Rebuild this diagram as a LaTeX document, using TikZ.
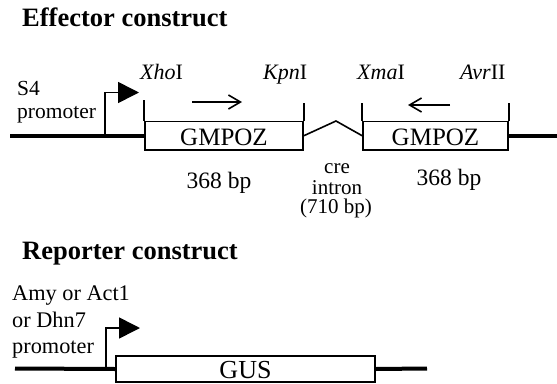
\documentclass[tikz,border=0pt]{standalone}
\usepackage{fontspec}
\setmainfont{Liberation Serif}
\usetikzlibrary{arrows.meta}
\begin{document}
\begin{tikzpicture}[x=1pt,y=-1pt,
  dna/.style={line width=4pt},
  thinline/.style={line width=1.6pt},
  gbox/.style={draw,line width=1.6pt,rectangle,inner sep=0pt,fill=white},
  lab/.style={inner sep=0pt,anchor=base west},
  clab/.style={inner sep=0pt,anchor=base},
  titlefont/.style={font=\bfseries\fontsize{26.5}{30}\selectfont},
  smallfont/.style={font=\fontsize{21.5}{25}\selectfont},
  reportfont/.style={font=\fontsize{22.3}{25}\selectfont},
  sitefont/.style={font=\fontsize{22}{26}\selectfont},
  bpfont/.style={font=\fontsize{23.5}{28}\selectfont},
  introfont/.style={font=\fontsize{21}{24}\selectfont},
  promarrow/.style={thinline,-{Triangle[length=21pt,width=21pt]}},
  dirarrow/.style={thinline,-{Straight Barb[length=12pt,width=14pt]}}]
\fill[white] (0,0) rectangle (557,383);
\useasboundingbox (0,0) rectangle (557,383);

% ---------------- Effector construct ----------------
\node[lab,titlefont] (t1) at (22,26) {Effector construct};
\node[lab,smallfont] (s4) at (17,95) {S4};
\node[lab,smallfont] (prom1) at (17,118) {promoter};

\node[gbox,minimum width=158pt,minimum height=28.5pt,text height=20pt,text depth=0pt,
      font=\fontsize{25}{30}\selectfont] (g1) at (224,135.75) {GMPOZ};
\node[gbox,minimum width=145pt,minimum height=28.5pt,text height=20pt,text depth=0pt,
      font=\fontsize{25}{30}\selectfont] (g2) at (435.5,135.75) {GMPOZ};

\coordinate (L0) at (10,135.75);
\coordinate (R0) at (557,135.75);
\coordinate (P1) at (105,135.75);
\coordinate (P1tip) at (139,92.5);
\coordinate (ipk) at (336,121);

\draw[dna] (L0) -- (g1.west);
\draw[dna] (g2.east) -- (R0);
\draw[promarrow] (P1) |- (P1tip);

% ticks
\draw[thinline] (g1.north west) -- ++(0,-20.5);
\draw[thinline] (g1.north east) -- ++(0,-17.5);
\draw[thinline] (g2.north west) -- ++(0,-17.5);
\draw[thinline] (g2.north east) -- ++(0,-17.5);

% intron
\draw[thinline] (g1.east) -- (ipk) -- (g2.west);

% direction arrows
\coordinate (a1s) at (192,102);
\coordinate (a1e) at (242,102);
\coordinate (a2s) at (450,105);
\coordinate (a2e) at (408,105);
\draw[dirarrow] (a1s) -- (a1e);
\draw[dirarrow] (a2s) -- (a2e);

% sites
\node[lab,sitefont] (xho) at (140,79) {\textit{Xho}I};
\node[lab,sitefont] (kpn) at (263,79) {\textit{Kpn}I};
\node[lab,sitefont] (xma) at (357,79) {\textit{Xma}I};
\node[lab,sitefont] (avr) at (460,79) {\textit{Avr}II};

% sizes
\node[clab,bpfont] (bp1) at (219,188) {368 bp};
\node[clab,bpfont] (bp2) at (449,185) {368 bp};
\node[clab,introfont] (cre1) at (337,173) {cre};
\node[clab,introfont] (cre2) at (337,194) {intron};
\node[clab,introfont] (cre3) at (336,213) {(710 bp)};

% ---------------- Reporter construct ----------------
\node[lab,titlefont] (t2) at (22,259) {Reporter construct};
\node[lab,reportfont] (r1) at (12,300) {Amy or Act1};
\node[lab,reportfont] (r2) at (12,327) {or Dhn7};
\node[lab,reportfont] (r3) at (12,353) {promoter};

\node[gbox,minimum width=259pt,minimum height=26pt,text height=19pt,text depth=0pt,
      font=\fontsize{26}{30}\selectfont] (gus) at (245.5,369) {GUS};

\coordinate (L1) at (15,368.5);
\coordinate (R1) at (427,368.5);
\coordinate (P2) at (106,368.5);
\coordinate (P2tip) at (140,328);

\draw[dna] (L1) -- (gus.west);
\draw[dna] (gus.east) -- (R1);
\draw[promarrow] (P2) |- (P2tip);
\end{tikzpicture}
\end{document}
